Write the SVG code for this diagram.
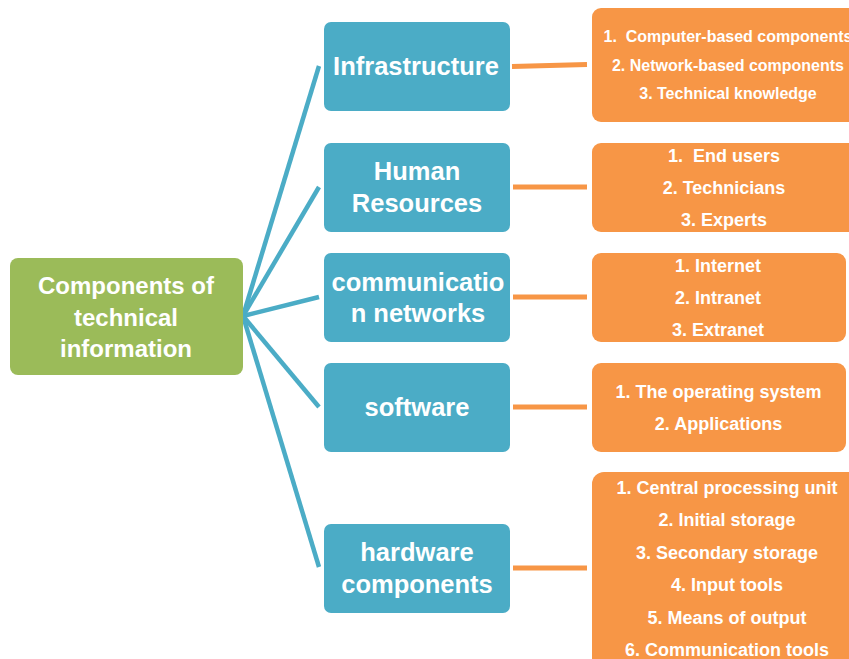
<svg xmlns="http://www.w3.org/2000/svg" width="849" height="659" viewBox="0 0 849 659">
<style>
.bg{fill:#ffffff}
.green{fill:#9BBB59}
.blue{fill:#4BACC6}
.orange{fill:#F79646}
.t{font-family:"Liberation Sans",Arial,sans-serif;font-weight:bold;fill:#ffffff;text-anchor:middle;white-space:pre}
.big{font-size:25.5px}
.mid{font-size:24px}
.sm{font-size:18px}
.xs{font-size:16px}
.cb{stroke:#4BACC6;stroke-width:4.5;fill:none}
.co{stroke:#F79646;stroke-width:5;fill:none}
</style>
<rect class="bg" x="0" y="0" width="849" height="659"/>
<g id="connectors">
<line class="cb" x1="243" y1="316" x2="319" y2="66"/>
<line class="cb" x1="243" y1="316" x2="319" y2="187"/>
<line class="cb" x1="243" y1="316" x2="319" y2="297"/>
<line class="cb" x1="243" y1="316" x2="319" y2="407"/>
<line class="cb" x1="243" y1="316" x2="319" y2="567"/>
<line class="co" x1="512" y1="66.5" x2="587" y2="64.5"/>
<line class="co" x1="513" y1="187" x2="587" y2="187"/>
<line class="co" x1="513" y1="297" x2="587" y2="297"/>
<line class="co" x1="513" y1="407" x2="587" y2="407"/>
<line class="co" x1="513" y1="568" x2="587" y2="568"/>
</g>
<g id="root">
<rect class="green" x="10" y="258" width="233" height="117" rx="8"/>
<text class="t mid" x="126" y="294">Components of</text>
<text class="t mid" x="126" y="325.5">technical</text>
<text class="t mid" x="126" y="357">information</text>
</g>
<g id="infrastructure">
<rect class="blue" x="324" y="22" width="186" height="89" rx="7"/>
<text class="t big" x="416" y="75">Infrastructure</text>
</g>
<g id="human-resources">
<rect class="blue" x="324" y="143" width="186" height="89" rx="7"/>
<text class="t big" x="417" y="180">Human</text>
<text class="t big" x="417" y="212">Resources</text>
</g>
<g id="communication-networks">
<rect class="blue" x="324" y="253" width="186" height="89" rx="7"/>
<text class="t big" x="418" y="291">communicatio</text>
<text class="t big" x="418" y="322">n networks</text>
</g>
<g id="software">
<rect class="blue" x="324" y="363" width="186" height="89" rx="7"/>
<text class="t big" x="417" y="416">software</text>
</g>
<g id="hardware-components">
<rect class="blue" x="324" y="524" width="186" height="89" rx="7"/>
<text class="t big" x="417" y="561">hardware</text>
<text class="t big" x="417" y="593">components</text>
</g>
<g id="infrastructure-items">
<rect class="orange" x="592" y="8" width="270" height="114" rx="9"/>
<text class="t xs" x="728" y="42">1.  Computer-based components</text>
<text class="t xs" x="728" y="71">2. Network-based components</text>
<text class="t xs" x="728" y="99">3. Technical knowledge</text>
</g>
<g id="human-items">
<rect class="orange" x="592" y="143" width="270" height="89" rx="9"/>
<text class="t sm" x="724" y="161.5">1.  End users</text>
<text class="t sm" x="724" y="193.5">2. Technicians</text>
<text class="t sm" x="724" y="225.5">3. Experts</text>
</g>
<g id="network-items">
<rect class="orange" x="592" y="253" width="254" height="89" rx="9"/>
<text class="t sm" x="718" y="271.5">1. Internet</text>
<text class="t sm" x="718" y="303.5">2. Intranet</text>
<text class="t sm" x="718" y="335.5">3. Extranet</text>
</g>
<g id="software-items">
<rect class="orange" x="592" y="363" width="254" height="89" rx="9"/>
<text class="t sm" x="718.5" y="397.5">1. The operating system</text>
<text class="t sm" x="718.5" y="429.5">2. Applications</text>
</g>
<g id="hardware-items">
<rect class="orange" x="592" y="472" width="270" height="200" rx="12"/>
<text class="t sm" x="727" y="493.5">1. Central processing unit</text>
<text class="t sm" x="727" y="525.5">2. Initial storage</text>
<text class="t sm" x="727" y="558.5">3. Secondary storage</text>
<text class="t sm" x="727" y="590.5">4. Input tools</text>
<text class="t sm" x="727" y="623.5">5. Means of output</text>
<text class="t sm" x="727" y="655.5">6. Communication tools</text>
</g>
</svg>
